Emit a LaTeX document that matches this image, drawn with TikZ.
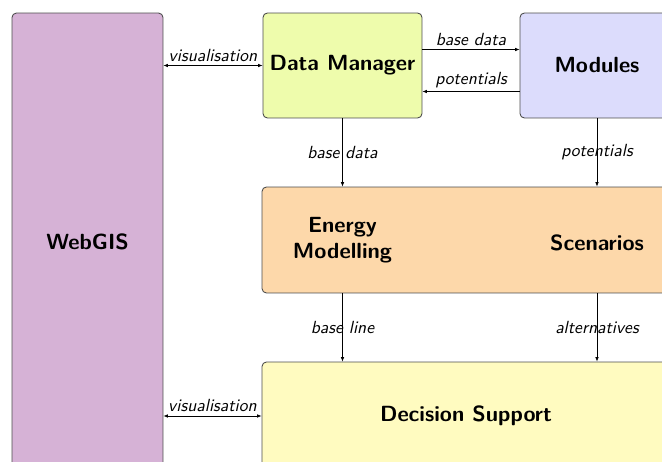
\documentclass[tikz,border=0pt]{standalone}
\usetikzlibrary{arrows.meta}
\renewcommand{\familydefault}{\sfdefault}

\definecolor{gisfill}{RGB}{214,178,214}
\definecolor{dmfill}{RGB}{238,252,172}
\definecolor{modfill}{RGB}{220,220,252}
\definecolor{enfill}{RGB}{253,216,170}
\definecolor{dsfill}{RGB}{255,251,192}

\tikzset{
  block/.style={draw=black!70, rounded corners=2.5pt, line width=0.5pt,
    font=\fontsize{12.5}{15}\selectfont\bfseries, align=center, inner sep=0pt},
  plain/.style={font=\fontsize{12.5}{15}\selectfont\bfseries, align=center},
  lbl/.style={font=\itshape\normalsize, inner sep=2pt},
  >={Latex[length=2.5pt,width=2pt]}
}

\begin{document}
\begin{tikzpicture}[x=0.02cm,y=-0.02cm]
      \useasboundingbox (0,0) rectangle (662,462);

      \node[block, fill=gisfill, minimum width=3.02cm, minimum height=9.14cm] (gis) at (87.5,241.5) {WebGIS};
      \node[block, fill=dmfill, minimum width=3.18cm, minimum height=2.1cm] (dm) at (342.5,65.5) {Data Manager};
      \node[block, fill=modfill, minimum width=3.08cm, minimum height=2.1cm] (mod) at (597,65.5) {Modules};
      \node[block, fill=enfill, minimum width=8.24cm, minimum height=2.12cm] (en) at (468,240) {};
      \node[plain] (model) at (342.5,240) {Energy\\Modelling};
      \node[plain] (scen) at (597,243) {Scenarios};
      \node[block, fill=dsfill, minimum width=8.16cm, minimum height=2.16cm] (ds) at (466,416) {Decision Support};

      \draw[<->] (gis.east |- dm) to node[lbl, above] {visualisation} (dm.west);
      \draw[->] ([yshift=0.32cm]dm.east) to node[lbl, above] {base data} ([yshift=0.32cm]dm.east -| mod.west);
      \draw[->] ([yshift=-0.52cm]mod.west) to node[lbl, above] {potentials} ([yshift=-0.52cm]mod.west -| dm.east);

      \draw[->] (dm.south) to node[lbl] {base data} (dm.south |- en.north);
      \draw[->] (mod.south) to node[lbl] {potentials} (mod.south |- en.north);
      \draw[->] (dm.south |- en.south) to node[lbl] {base line} (dm.south |- ds.north);
      \draw[->] (mod.south |- en.south) to node[lbl] {alternatives} (mod.south |- ds.north);
      \draw[<->] (gis.east |- ds) to node[lbl, above] {visualisation} (ds.west);
\end{tikzpicture}
\end{document}
